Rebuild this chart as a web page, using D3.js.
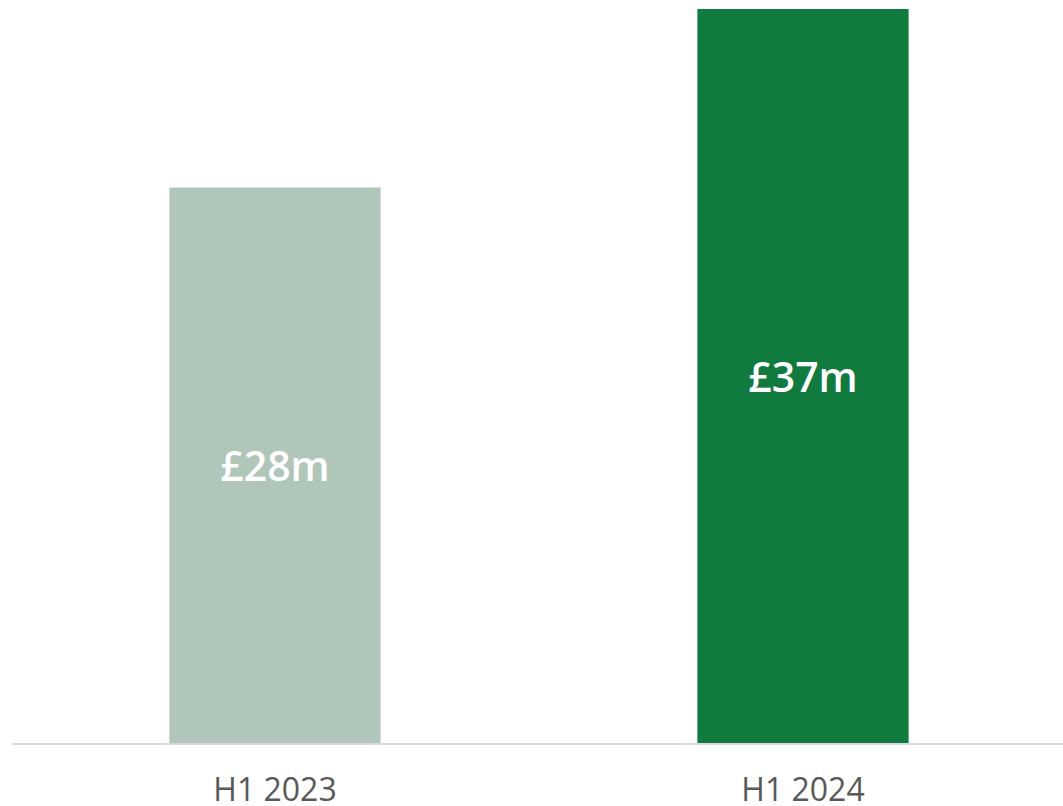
<!DOCTYPE html>
<html>
<head>
<meta charset="utf-8">
<script src="https://cdn.jsdelivr.net/npm/d3@7"></script>
<style>
  html, body { margin: 0; padding: 0; background: #ffffff; }
  svg { display: block; }
</style>
</head>
<body>
<svg id="chart" width="1063" height="806"></svg>
<script>
// Half-year figures (£m)
const categories = ["H1 2023", "H1 2024"];
const values = [28, 37];
const valueLabels = ["£28m", "£37m"];
const barColors = ["#b0c6b9", "#117a3f"];

const width = 1063, height = 806;
const baseline = 743;
const svg = d3.select("#chart");

const x = d3.scaleBand()
  .domain(categories)
  .range([11, 1067])
  .paddingInner(0.6)
  .paddingOuter(0.3);

const y = d3.scaleLinear()
  .domain([0, 37])
  .range([baseline, 9]);

// bars
svg.append("g")
  .selectAll("rect")
  .data(values)
  .join("rect")
  .attr("x", (d, i) => x(categories[i]))
  .attr("y", d => y(d))
  .attr("width", x.bandwidth())
  .attr("height", d => y(0) - y(d))
  .attr("fill", (d, i) => barColors[i]);

// value labels, centred in each bar
svg.append("g")
  .selectAll("text")
  .data(values)
  .join("text")
  .attr("x", (d, i) => x(categories[i]) + x.bandwidth() / 2)
  .attr("y", d => (y(d) + y(0)) / 2)
  .attr("dy", "0.38em")
  .attr("text-anchor", "middle")
  .attr("font-family", "'Open Sans', sans-serif")
  .attr("font-weight", 600)
  .attr("font-size", 41)
  .attr("fill", "#ffffff")
  .text((d, i) => valueLabels[i]);

// baseline axis
const axis = svg.append("g")
  .attr("transform", `translate(0,${baseline})`)
  .call(d3.axisBottom(x).tickSize(0).tickPadding(35));
axis.select(".domain")
  .attr("d", `M12,1H1063`)
  .attr("stroke", "#d9d9d9")
  .attr("stroke-width", 2);
axis.selectAll(".tick text")
  .attr("font-family", "'Open Sans', sans-serif")
  .attr("font-size", 32)
  .attr("fill", "#595959");
</script>
</body>
</html>
